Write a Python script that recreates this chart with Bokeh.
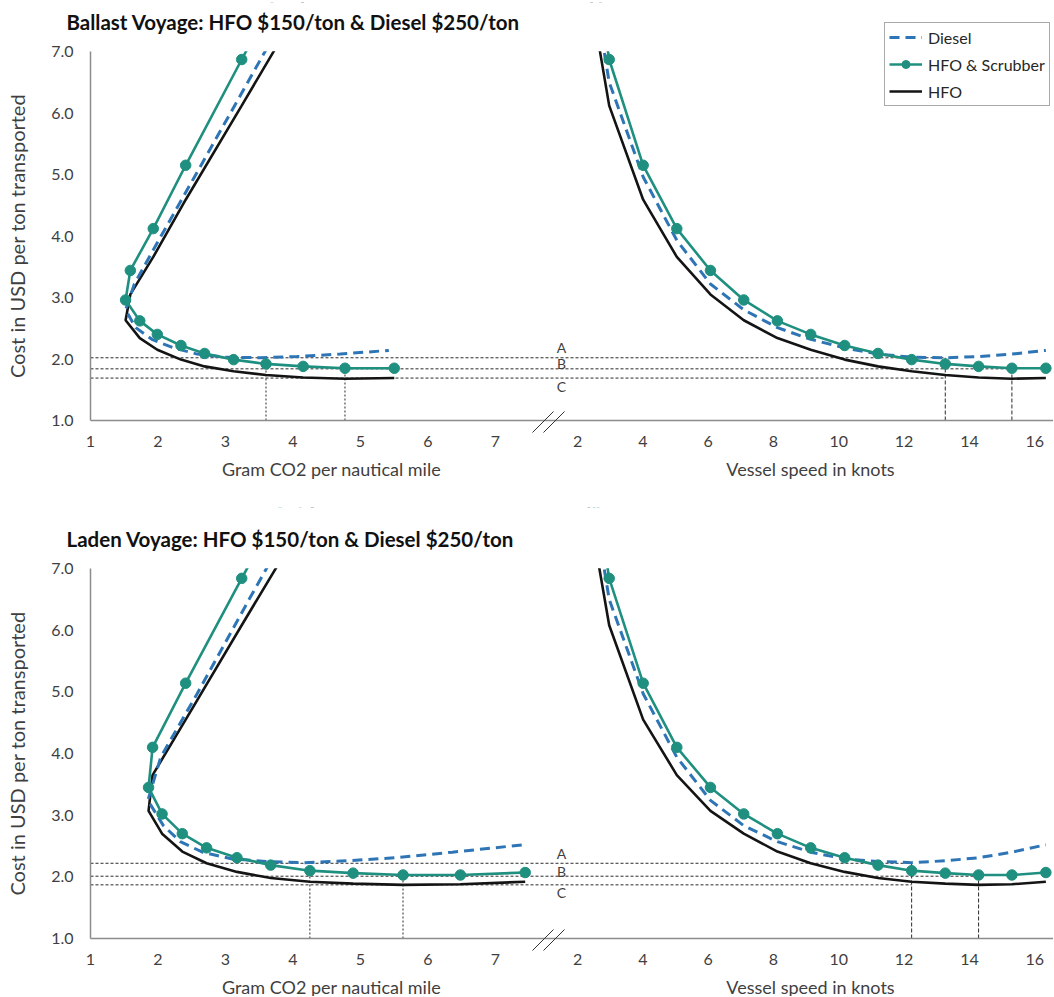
from bokeh.plotting import figure
from bokeh.models import (Range1d, FixedTicker, NumeralTickFormatter, Label,
                          Legend, LegendItem, Arrow)
from bokeh.layouts import column
from bokeh.embed import file_html
from bokeh.resources import INLINE

# ---------------- data ----------------
speed_knots = [1.95, 2.97, 4.01, 5.04, 6.07, 7.09, 8.12, 9.14, 10.18, 11.20,
               12.23, 13.26, 14.28, 15.30, 16.34]

ballast_co2_hfo = [4.95, 3.24, 2.41, 1.93, 1.59, 1.52, 1.73, 1.99, 2.34, 2.69,
                   3.12, 3.60, 4.15, 4.77, 5.50]
ballast_co2_diesel = [5.02, 3.33, 2.54, 2.01, 1.65, 1.52, 1.67, 1.91, 2.23, 2.58,
                      2.98, 3.52, 4.06, 4.70, 5.42]
ballast_cost_diesel = [9.80, 6.50, 4.96, 3.93, 3.22, 2.80, 2.51, 2.32, 2.18, 2.08,
                       2.03, 2.02, 2.04, 2.08, 2.14]
ballast_cost_scrubber = [10.40, 6.87, 5.15, 4.12, 3.44, 2.96, 2.62, 2.40, 2.22, 2.09,
                         1.99, 1.92, 1.88, 1.85, 1.85]
ballast_cost_hfo = [9.30, 6.12, 4.59, 3.66, 3.05, 2.63, 2.34, 2.15, 1.99, 1.88,
                    1.80, 1.74, 1.70, 1.68, 1.69]
ballast_ref_abc = [2.02, 1.84, 1.69]

laden_co2_hfo = [4.95, 3.24, 2.41, 1.92, 1.86, 2.06, 2.36, 2.72, 3.17, 3.67,
                 4.25, 4.89, 5.63, 6.48, 7.44]
laden_co2_diesel = [5.05, 3.35, 2.58, 2.04, 1.85, 2.08, 2.33, 2.66, 3.10, 3.60,
                    4.17, 4.80, 5.52, 6.36, 7.42]
laden_cost_diesel = [9.80, 6.50, 4.97, 3.94, 3.24, 2.83, 2.57, 2.40, 2.29, 2.25,
                     2.23, 2.26, 2.31, 2.40, 2.52]
laden_cost_scrubber = [10.30, 6.84, 5.14, 4.10, 3.45, 3.02, 2.70, 2.47, 2.31, 2.19,
                       2.10, 2.06, 2.03, 2.03, 2.07]
laden_cost_hfo = [9.20, 6.08, 4.55, 3.65, 3.07, 2.70, 2.41, 2.22, 2.08, 1.98,
                  1.92, 1.89, 1.87, 1.88, 1.92]
laden_ref_abc = [2.22, 2.01, 1.87]

co2_ticks = [1, 2, 3, 4, 5, 6, 7]
speed_ticks = [2, 4, 6, 8, 10, 12, 14, 16]
cost_ticks = [1, 2, 3, 4, 5, 6, 7]
legend_labels = ["Diesel", "HFO & Scrubber", "HFO"]
abc_labels = ["A", "B", "C"]
titles = ["Ballast Voyage: HFO $150/ton & Diesel $250/ton",
          "Laden Voyage: HFO $150/ton & Diesel $250/ton"]
x_title_left = "Gram CO2 per nautical mile"
x_title_right = "Vessel speed in knots"
y_title = "Cost in USD per ton transported"

# ---------------- styling / layout ----------------
FONT = "Lato"
TEAL = "#1f8f7f"
BLUE = "#2e75b6"
BLACK = "#141414"
AXIS_GRAY = "#8c8c8c"
TEXT_GRAY = "#3f3f3f"
REF_COLOR = "#2b2b2b"

PAGE_LEFT, PAGE_RIGHT = 0, 1053     # canvas extent on the page (px)
AXIS_LEFT_PX = 90                   # where CO2 = 1 sits
PX_PER_CO2 = 67.5
PX_PER_KNOT = 32.66
KNOT_ZERO_PX = 511.7
CO2_AXIS_START = 1.0
Y_AXIS_START, Y_AXIS_END = 1.0, 7.0
CANVAS_W = PAGE_RIGHT - PAGE_LEFT
TOP_PAD = 2                         # thin white border above each frame


def co2_at(px):
    return CO2_AXIS_START + (px - AXIS_LEFT_PX) / PX_PER_CO2


def spd_at(px):
    return (px - KNOT_ZERO_PX) / PX_PER_KNOT


X_START, X_END = co2_at(PAGE_LEFT), co2_at(PAGE_RIGHT)
S_START, S_END = spd_at(PAGE_LEFT), spd_at(PAGE_RIGHT)


def spd_to_x(s):
    return round(X_START + (s - S_START) * (X_END - X_START) / (S_END - S_START), 6)


def panel(title, co2_h, co2_d, c_d, c_s, c_h, refs, ia, ib,
          page_top, page_bottom, axis_top_px, axis_bottom_px, show_legend):
    ppu = (axis_bottom_px - axis_top_px) / (Y_AXIS_END - Y_AXIS_START)

    def y_at(py):
        return Y_AXIS_START + (axis_bottom_px - py) / ppu

    frame_top = page_top + TOP_PAD
    y0, y1 = y_at(page_bottom), y_at(frame_top)
    p = figure(frame_width=CANVAS_W, frame_height=page_bottom - frame_top,
               x_range=Range1d(X_START, X_END), y_range=Range1d(y0, y1),
               min_border_left=0, min_border_right=0,
               min_border_top=TOP_PAD, min_border_bottom=0,
               output_backend="svg", toolbar_location=None, title=None)
    p.extra_x_ranges = {"spd": Range1d(S_START, S_END)}
    p.xgrid.visible = False
    p.ygrid.visible = False
    p.outline_line_color = None
    p.background_fill_color = "white"
    p.border_fill_color = "white"

    # x axis: CO2 ticks on the left part, speed ticks on the right part
    mapped = [spd_to_x(s) for s in speed_ticks]
    xa = p.xaxis[0]
    xa.fixed_location = Y_AXIS_START
    xa.bounds = (CO2_AXIS_START, X_END)
    xa.ticker = FixedTicker(ticks=[float(t) for t in co2_ticks] + mapped)
    overrides = {float(t): str(t) for t in co2_ticks}
    for m, s in zip(mapped, speed_ticks):
        overrides[m] = str(s)
    xa.major_label_overrides = overrides
    xa.axis_line_color = AXIS_GRAY
    xa.axis_line_width = 1.5
    xa.major_tick_line_color = None
    xa.minor_tick_line_color = None
    xa.major_tick_out = 0
    xa.major_tick_in = 0
    xa.major_label_standoff = 15
    xa.major_label_text_font = FONT
    xa.major_label_text_font_size = "16px"
    xa.major_label_text_color = TEXT_GRAY

    ya = p.yaxis[0]
    ya.fixed_location = CO2_AXIS_START
    ya.bounds = (Y_AXIS_START, Y_AXIS_END)
    ya.ticker = FixedTicker(ticks=cost_ticks)
    ya.formatter = NumeralTickFormatter(format="0.0")
    ya.axis_line_color = AXIS_GRAY
    ya.axis_line_width = 1.5
    ya.major_tick_line_color = None
    ya.minor_tick_line_color = None
    ya.major_tick_out = 0
    ya.major_tick_in = 0
    ya.major_label_standoff = 17
    ya.major_label_text_font = FONT
    ya.major_label_text_font_size = "16px"
    ya.major_label_text_color = TEXT_GRAY
    ya.axis_label = y_title
    ya.axis_label_standoff = 19
    ya.axis_label_text_font = FONT
    ya.axis_label_text_font_size = "20px"
    ya.axis_label_text_font_style = "normal"
    ya.axis_label_text_color = TEXT_GRAY

    s_axis_start = spd_at(AXIS_LEFT_PX)
    # reference lines A, B, C (horizontal, dashed)
    ends = [speed_knots[ia], speed_knots[ib], speed_knots[ia]]
    p.segment(x0=[s_axis_start] * 3, y0=refs, x1=ends, y1=refs, x_range_name="spd",
              line_color=REF_COLOR, line_width=1, line_dash="3 2")
    # vertical markers on the speed side (to A and B)
    p.segment(x0=[speed_knots[ia], speed_knots[ib]], y0=[Y_AXIS_START] * 2,
              x1=[speed_knots[ia], speed_knots[ib]], y1=[refs[0], refs[1]],
              x_range_name="spd", line_color=REF_COLOR, line_width=1, line_dash="4 2")
    # vertical markers on the CO2 side (to the scrubber points)
    p.segment(x0=[co2_h[ia], co2_h[ib]], y0=[Y_AXIS_START] * 2,
              x1=[co2_h[ia], co2_h[ib]], y1=[c_s[ia], c_s[ib]],
              line_color=REF_COLOR, line_width=1, line_dash="2 2")

    # CO2 side
    p.line(co2_h, c_h, line_color=BLACK, line_width=2.6)
    p.line(co2_d, c_d, line_color=BLUE, line_width=3, line_dash="10 6")
    p.line(co2_h, c_s, line_color=TEAL, line_width=2.6)
    p.scatter(co2_h, c_s, size=10.5, fill_color=TEAL, line_color=TEAL)

    # speed side
    r_h = p.line(speed_knots, c_h, line_color=BLACK, line_width=2.6, x_range_name="spd")
    r_d = p.line(speed_knots, c_d, line_color=BLUE, line_width=3, line_dash="10 6",
                 x_range_name="spd")
    r_sl = p.line(speed_knots, c_s, line_color=TEAL, line_width=2.6, x_range_name="spd")
    r_sm = p.scatter(speed_knots, c_s, size=10.5, fill_color=TEAL, line_color=TEAL,
                     x_range_name="spd")

    # the plotting area stops at 7.0: white mask (drawn after the series) above it
    p.quad(left=[CO2_AXIS_START + 0.1], right=[X_END + 5], bottom=[Y_AXIS_END + 0.1],
           top=[y1 + 5], fill_color="white", fill_alpha=1.0,
           line_color="white", line_width=12)

    # A / B / C labels
    lab_x = spd_at(561)
    offs = [10, 5, -8]
    for txt, val, off in zip(abc_labels, refs, offs):
        p.add_layout(Label(x=lab_x, y=val + off / ppu, x_range_name="spd", text=txt,
                           text_align="center", text_baseline="middle",
                           text_font=FONT, text_font_size="14px", text_color=TEXT_GRAY))

    # title
    p.add_layout(Label(x=co2_at(66), y=y_at(axis_top_px - 30), text=title,
                       text_align="left", text_baseline="middle", text_font=FONT,
                       text_font_size="20.5px", text_font_style="bold",
                       text_color="#111111"))
    # x axis titles
    p.add_layout(Label(x=co2_at(331), y=y_at(axis_bottom_px + 48), text=x_title_left,
                       text_align="center", text_baseline="middle", text_font=FONT,
                       text_font_size="18px", text_color=TEXT_GRAY))
    p.add_layout(Label(x=co2_at(810), y=y_at(axis_bottom_px + 48), text=x_title_right,
                       text_align="center", text_baseline="middle", text_font=FONT,
                       text_font_size="18px", text_color=TEXT_GRAY))

    # axis break marks
    for x0px in (532, 543):
        p.add_layout(Arrow(end=None, x_start=co2_at(x0px), y_start=y_at(axis_bottom_px + 12),
                           x_end=co2_at(x0px + 21), y_end=y_at(axis_bottom_px - 9),
                           line_color="#333333", line_width=1))

    if show_legend:
        legend = Legend(items=[LegendItem(label=legend_labels[0], renderers=[r_d]),
                               LegendItem(label=legend_labels[1], renderers=[r_sl, r_sm]),
                               LegendItem(label=legend_labels[2], renderers=[r_h])],
                        location=(884 - PAGE_LEFT, page_bottom - 106),
                        label_text_font=FONT, label_text_font_size="16px",
                        label_text_color="#262626", glyph_width=33, glyph_height=20,
                        label_height=20, spacing=7, padding=4, margin=0,
                        label_standoff=6, border_line_color="#555555",
                        border_line_width=1, background_fill_alpha=1.0)
        p.add_layout(legend)
    return p


top = panel(titles[0], ballast_co2_hfo, ballast_co2_diesel, ballast_cost_diesel,
            ballast_cost_scrubber, ballast_cost_hfo, ballast_ref_abc, 11, 13,
            page_top=0, page_bottom=505, axis_top_px=51, axis_bottom_px=420,
            show_legend=True)
bottom = panel(titles[1], laden_co2_hfo, laden_co2_diesel, laden_cost_diesel,
               laden_cost_scrubber, laden_cost_hfo, laden_ref_abc, 10, 12,
               page_top=505, page_bottom=996, axis_top_px=568, axis_bottom_px=938,
               show_legend=False)

layout = column(top, bottom)
open("out.html", "w").write(file_html(layout, INLINE))
